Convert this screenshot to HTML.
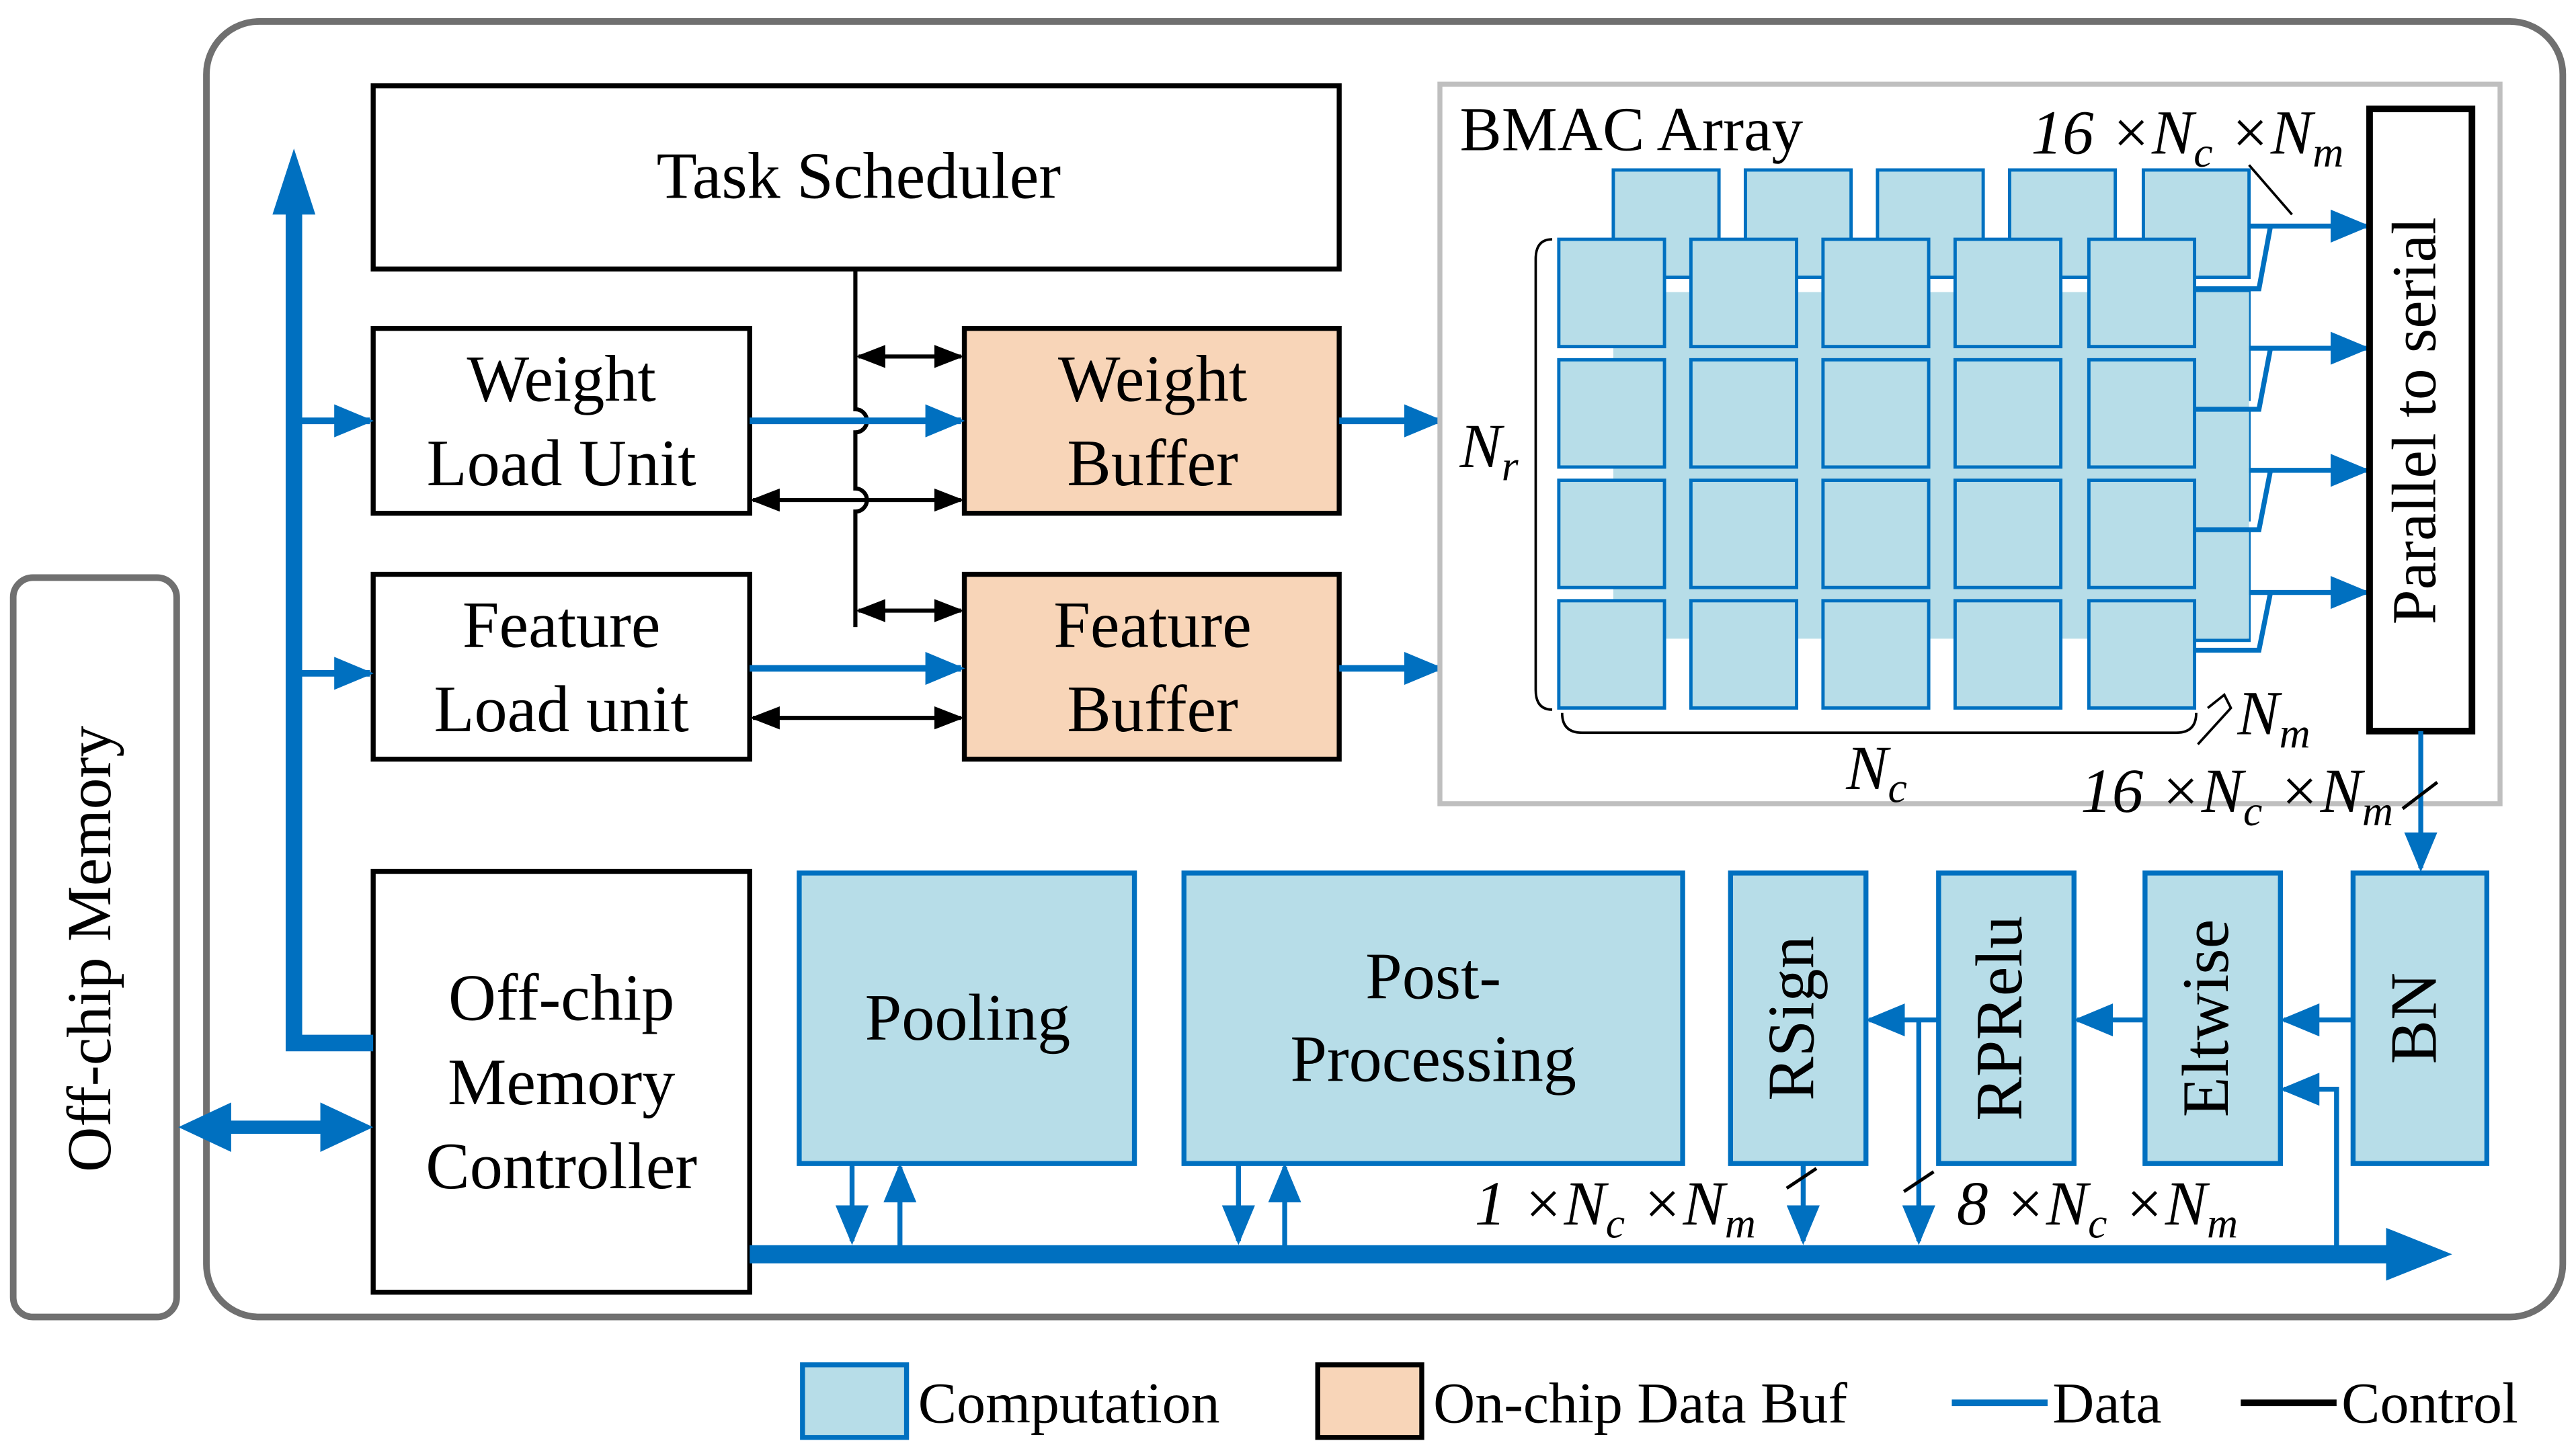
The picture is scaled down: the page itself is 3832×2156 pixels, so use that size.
<!DOCTYPE html>
<html><head><meta charset="utf-8"><style>
html,body{margin:0;padding:0;background:#fff;}
svg{display:block;}
text{font-family:"Liberation Serif",serif;fill:#000;}
.it{font-style:italic;}
</style></head><body>
<svg width="3832" height="2156" viewBox="0 0 1560 878" preserveAspectRatio="none" xmlns="http://www.w3.org/2000/svg">
<defs>
<marker id="abl" viewBox="0 0 10 10" refX="9" refY="5" markerWidth="24" markerHeight="20" orient="auto" markerUnits="userSpaceOnUse" preserveAspectRatio="none"><path d="M0,0 L10,5 L0,10 z" fill="#0070c0"/></marker>
<marker id="ak" viewBox="0 0 10 10" refX="9" refY="5" markerWidth="18" markerHeight="14" orient="auto-start-reverse" markerUnits="userSpaceOnUse" preserveAspectRatio="none"><path d="M0,0 L10,5 L0,10 z" fill="#000"/></marker>
</defs>
<rect x="125" y="13" width="1427" height="785" rx="32" fill="none" stroke="#707070" stroke-width="4"/>
<rect x="8" y="350" width="99" height="448" rx="12" fill="none" stroke="#707070" stroke-width="4"/>
<text x="58" y="575" font-size="38" text-anchor="middle" dominant-baseline="middle" transform="rotate(-90 58 575)">Off-chip Memory</text>

<rect x="226" y="52" width="585" height="111" fill="#fff" stroke="#000" stroke-width="3"/>
<text x="520" y="120" font-size="40" text-anchor="middle">Task Scheduler</text>
<rect x="226" y="199" width="228" height="112" fill="#fff" stroke="#000" stroke-width="3"/>
<text x="340" y="243" font-size="40" text-anchor="middle">Weight</text>
<text x="340" y="294" font-size="40" text-anchor="middle">Load Unit</text>
<rect x="226" y="348" width="228" height="112" fill="#fff" stroke="#000" stroke-width="3"/>
<text x="340" y="392" font-size="40" text-anchor="middle">Feature</text>
<text x="340" y="443" font-size="40" text-anchor="middle">Load unit</text>
<rect x="584" y="199" width="227" height="112" fill="#f8d5b8" stroke="#000" stroke-width="3"/>
<text x="698" y="243" font-size="40" text-anchor="middle">Weight</text>
<text x="698" y="294" font-size="40" text-anchor="middle">Buffer</text>
<rect x="584" y="348" width="227" height="112" fill="#f8d5b8" stroke="#000" stroke-width="3"/>
<text x="698" y="392" font-size="40" text-anchor="middle">Feature</text>
<text x="698" y="443" font-size="40" text-anchor="middle">Buffer</text>
<rect x="226" y="528" width="228" height="255" fill="#fff" stroke="#000" stroke-width="3"/>
<text x="340" y="618" font-size="40" text-anchor="middle">Off-chip</text>
<text x="340" y="669" font-size="40" text-anchor="middle">Memory</text>
<text x="340" y="720" font-size="40" text-anchor="middle">Controller</text>

<g stroke="#000" stroke-width="2.5" fill="none">
<path d="M518,163 V248 a7,7 0 0 1 0,14 V296 a7,7 0 0 1 0,14 V380"/>
<line x1="520" y1="216" x2="582" y2="216" marker-start="url(#ak)" marker-end="url(#ak)"/>
<line x1="520" y1="370" x2="582" y2="370" marker-start="url(#ak)" marker-end="url(#ak)"/>
<line x1="456" y1="303" x2="582" y2="303" marker-start="url(#ak)" marker-end="url(#ak)"/>
<line x1="456" y1="435" x2="582" y2="435" marker-start="url(#ak)" marker-end="url(#ak)"/>
</g>

<g stroke="#0070c0" stroke-width="4" fill="none">
<line x1="454" y1="255" x2="582" y2="255" marker-end="url(#abl)"/>
<line x1="454" y1="405" x2="582" y2="405" marker-end="url(#abl)"/>
<line x1="811" y1="255" x2="872" y2="255" marker-end="url(#abl)"/>
<line x1="811" y1="405" x2="872" y2="405" marker-end="url(#abl)"/>
<line x1="178" y1="255" x2="224" y2="255" marker-end="url(#abl)"/>
<line x1="178" y1="408" x2="224" y2="408" marker-end="url(#abl)"/>
</g>
<path d="M226,632 H178 V128" stroke="#0070c0" stroke-width="10" fill="none"/>
<path d="M165,130 L178,90 L191,130 z" fill="#0070c0"/>
<line x1="135" y1="683" x2="200" y2="683" stroke="#0070c0" stroke-width="8"/>
<path d="M108,683 L140,668 L140,698 z" fill="#0070c0"/>
<path d="M226,683 L194,668 L194,698 z" fill="#0070c0"/>

<rect x="872" y="51" width="642" height="436" fill="#fff" stroke="#bfbfbf" stroke-width="3"/>
<text x="884" y="91" font-size="38">BMAC Array</text>
<text x="1230" y="93" font-size="38" class="it">16 ×N<tspan font-size="26" dy="8">c</tspan><tspan dy="-8"> ×N</tspan><tspan font-size="26" dy="8">m</tspan></text>
<line x1="1362" y1="100" x2="1388" y2="130" stroke="#000" stroke-width="1.5"/>
<g fill="#b7dde8" stroke="#0070c0" stroke-width="2">
<rect x="977" y="103" width="64" height="65"/><rect x="1057" y="103" width="64" height="65"/><rect x="1137" y="103" width="64" height="65"/><rect x="1217" y="103" width="64" height="65"/><rect x="1298" y="103" width="64" height="65"/>
<rect x="1298" y="177" width="64" height="65"/><rect x="1298" y="250" width="64" height="65"/><rect x="1298" y="323" width="64" height="65"/>
<rect x="977" y="177" width="385" height="210" fill="#b7dde8" stroke="none"/>
</g>
<g stroke="#0070c0" stroke-width="3" fill="none">
<line x1="1362" y1="137" x2="1433" y2="137" marker-end="url(#abl)"/>
<line x1="1362" y1="211" x2="1433" y2="211" marker-end="url(#abl)"/>
<line x1="1362" y1="285" x2="1433" y2="285" marker-end="url(#abl)"/>
<line x1="1362" y1="359" x2="1433" y2="359" marker-end="url(#abl)"/>
<path d="M1329,175 H1368 L1375,137"/><path d="M1329,248 H1368 L1375,211"/><path d="M1329,321 H1368 L1375,285"/><path d="M1329,394 H1368 L1375,359"/>
</g>
<g fill="#b7dde8" stroke="#0070c0" stroke-width="2">
<rect x="944" y="145" width="64" height="65"/><rect x="1024" y="145" width="64" height="65"/><rect x="1104" y="145" width="64" height="65"/><rect x="1184" y="145" width="64" height="65"/><rect x="1265" y="145" width="64" height="65"/>
<rect x="944" y="218" width="64" height="65"/><rect x="1024" y="218" width="64" height="65"/><rect x="1104" y="218" width="64" height="65"/><rect x="1184" y="218" width="64" height="65"/><rect x="1265" y="218" width="64" height="65"/>
<rect x="944" y="291" width="64" height="65"/><rect x="1024" y="291" width="64" height="65"/><rect x="1104" y="291" width="64" height="65"/><rect x="1184" y="291" width="64" height="65"/><rect x="1265" y="291" width="64" height="65"/>
<rect x="944" y="364" width="64" height="65"/><rect x="1024" y="364" width="64" height="65"/><rect x="1104" y="364" width="64" height="65"/><rect x="1184" y="364" width="64" height="65"/><rect x="1265" y="364" width="64" height="65"/>
</g>
<g stroke="#000" stroke-width="1.5" fill="none">
<path d="M940,145 q-10,0 -10,12 V418 q0,12 10,12"/>
<path d="M946,432 q0,12 12,12 H1318 q12,0 12,-12"/>
<path d="M1337,429 l10,-8 l4,8 l-20,22"/>
</g>
<text x="884" y="283" font-size="38" class="it">N<tspan font-size="26" dy="8">r</tspan></text>
<text x="1118" y="478" font-size="38" class="it">N<tspan font-size="26" dy="8">c</tspan></text>
<text x="1355" y="445" font-size="38" class="it">N<tspan font-size="26" dy="8">m</tspan></text>
<rect x="1435" y="66" width="62" height="377" fill="#fff" stroke="#000" stroke-width="4"/>
<text x="1466" y="255" font-size="38" text-anchor="middle" dominant-baseline="middle" transform="rotate(-90 1466 255)">Parallel to serial</text>
<line x1="1466" y1="443" x2="1466" y2="526" stroke="#0070c0" stroke-width="3" marker-end="url(#abl)"/>
<line x1="1455" y1="490" x2="1476" y2="474" stroke="#000" stroke-width="2"/>
<text x="1260" y="492" font-size="38" class="it">16 ×N<tspan font-size="26" dy="8">c</tspan><tspan dy="-8"> ×N</tspan><tspan font-size="26" dy="8">m</tspan></text>

<g fill="#b7dde8" stroke="#0070c0" stroke-width="3">
<rect x="484" y="529" width="203" height="176"/>
<rect x="717" y="529" width="302" height="176"/>
<rect x="1048" y="529" width="82" height="176"/>
<rect x="1174" y="529" width="82" height="176"/>
<rect x="1299" y="529" width="82" height="176"/>
<rect x="1425" y="529" width="81" height="176"/>
</g>
<text x="586" y="630" font-size="40" text-anchor="middle">Pooling</text>
<text x="868" y="605" font-size="40" text-anchor="middle">Post-</text>
<text x="868" y="655" font-size="40" text-anchor="middle">Processing</text>
<text x="1089" y="617" font-size="40" text-anchor="middle" dominant-baseline="middle" transform="rotate(-90 1089 617)">RSign</text>
<text x="1215" y="617" font-size="40" text-anchor="middle" dominant-baseline="middle" transform="rotate(-90 1215 617)">RPRelu</text>
<text x="1340" y="617" font-size="40" text-anchor="middle" dominant-baseline="middle" transform="rotate(-90 1340 617)">Eltwise</text>
<text x="1466" y="617" font-size="40" text-anchor="middle" dominant-baseline="middle" transform="rotate(-90 1466 617)">BN</text>

<line x1="454" y1="760" x2="1450" y2="760" stroke="#0070c0" stroke-width="11"/>
<path d="M1445,744 L1485,760 L1445,776 z" fill="#0070c0"/>
<g stroke="#0070c0" stroke-width="3" fill="none">
<line x1="516" y1="705" x2="516" y2="752" marker-end="url(#abl)"/>
<line x1="545" y1="755" x2="545" y2="707" marker-end="url(#abl)"/>
<line x1="750" y1="705" x2="750" y2="752" marker-end="url(#abl)"/>
<line x1="778" y1="755" x2="778" y2="707" marker-end="url(#abl)"/>
<line x1="1092" y1="705" x2="1092" y2="752" marker-end="url(#abl)"/>
<line x1="1425" y1="618" x2="1383" y2="618" marker-end="url(#abl)"/>
<line x1="1299" y1="618" x2="1258" y2="618" marker-end="url(#abl)"/>
<line x1="1174" y1="618" x2="1132" y2="618" marker-end="url(#abl)"/>
<line x1="1162" y1="618" x2="1162" y2="752" marker-end="url(#abl)"/>
<path d="M1415,755 V660 H1383" marker-end="url(#abl)"/>
</g>
<line x1="1082" y1="720" x2="1100" y2="708" stroke="#000" stroke-width="2"/>
<line x1="1153" y1="722" x2="1171" y2="710" stroke="#000" stroke-width="2"/>
<text x="893" y="742" font-size="38" class="it">1 ×N<tspan font-size="26" dy="8">c</tspan><tspan dy="-8"> ×N</tspan><tspan font-size="26" dy="8">m</tspan></text>
<text x="1185" y="742" font-size="38" class="it">8 ×N<tspan font-size="26" dy="8">c</tspan><tspan dy="-8"> ×N</tspan><tspan font-size="26" dy="8">m</tspan></text>

<rect x="486" y="827" width="63" height="44" fill="#b7dde8" stroke="#0070c0" stroke-width="3"/>
<text x="556" y="862" font-size="35">Computation</text>
<rect x="798" y="827" width="63" height="44" fill="#f8d5b8" stroke="#000" stroke-width="3"/>
<text x="868" y="862" font-size="35">On-chip Data Buf</text>
<line x1="1182" y1="850" x2="1240" y2="850" stroke="#0070c0" stroke-width="4"/>
<text x="1243" y="862" font-size="35">Data</text>
<line x1="1357" y1="850" x2="1415" y2="850" stroke="#000" stroke-width="4"/>
<text x="1418" y="862" font-size="35">Control</text>
</svg>
</body></html>
